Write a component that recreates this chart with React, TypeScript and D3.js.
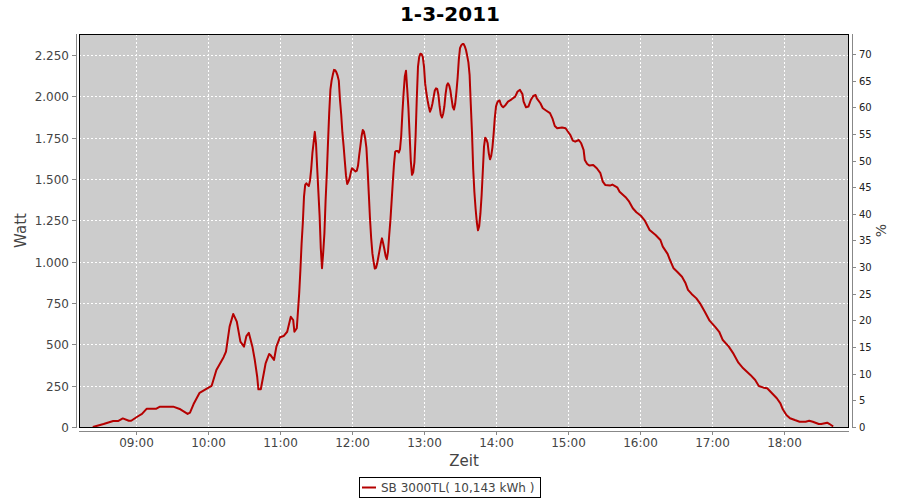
import React from 'react';
import * as d3 from 'd3';

const chartTitle = '1-3-2011';
const seriesName = 'SB 3000TL( 10,143 kWh )';
const xAxisLabel = 'Zeit';
const yAxisLabel = 'Watt';
const y2AxisLabel = '%';

const times: string[] = [
  '08:24', '08:33', '08:41', '08:45', '08:49', '08:54', '08:56', '09:01', '09:05', '09:09',
  '09:17', '09:20', '09:31', '09:37', '09:43', '09:45', '09:48', '09:53', '09:59', '10:03',
  '10:07', '10:13', '10:15', '10:18', '10:21', '10:24', '10:27', '10:30', '10:32', '10:34',
  '10:37', '10:39', '10:41', '10:42', '10:44', '10:47', '10:48', '10:51', '10:52', '10:55',
  '10:57', '11:00', '11:03', '11:06', '11:09', '11:11', '11:12', '11:14', '11:16',
  '11:17', '11:18', '11:19', '11:20', '11:21', '11:22', '11:23', '11:24', '11:25', '11:26',
  '11:27', '11:28', '11:29', '11:30', '11:31', '11:32', '11:33', '11:34', '11:35', '11:36',
  '11:37', '11:38', '11:39', '11:40', '11:41', '11:42', '11:43', '11:44', '11:45', '11:46',
  '11:47', '11:48', '11:49', '11:50', '11:51', '11:52', '11:53', '11:54', '11:55', '11:56',
  '11:57', '11:58', '11:59', '12:00', '12:01', '12:02', '12:03', '12:04', '12:05', '12:06',
  '12:07', '12:08', '12:09', '12:10', '12:11', '12:12', '12:13', '12:14', '12:15', '12:16',
  '12:17', '12:18', '12:19', '12:20', '12:21', '12:22', '12:23', '12:24', '12:25', '12:26',
  '12:27', '12:28', '12:29', '12:30', '12:31', '12:32', '12:33', '12:34', '12:35', '12:36',
  '12:37', '12:38', '12:39', '12:40', '12:41', '12:42', '12:43', '12:44', '12:45', '12:46',
  '12:47', '12:48', '12:49', '12:50', '12:51', '12:52', '12:53', '12:54', '12:55', '12:56',
  '12:57', '12:58', '12:59', '13:00', '13:01', '13:02', '13:03', '13:04', '13:05', '13:06',
  '13:07', '13:08', '13:09', '13:10', '13:11', '13:12', '13:13', '13:14', '13:15', '13:16',
  '13:17', '13:18', '13:19', '13:20', '13:21', '13:22', '13:23', '13:24', '13:25', '13:26',
  '13:27', '13:28', '13:29', '13:30', '13:31', '13:32', '13:33', '13:34', '13:35', '13:36',
  '13:37', '13:38', '13:39', '13:40', '13:41', '13:42', '13:43', '13:44', '13:45', '13:46',
  '13:47', '13:48', '13:49', '13:50', '13:51', '13:52', '13:53', '13:54', '13:55', '13:56',
  '13:57', '13:58', '13:59', '14:00', '14:01', '14:02', '14:03', '14:04', '14:05',
  '14:06', '14:08', '14:10', '14:13', '14:16', '14:18', '14:20', '14:22', '14:23', '14:25',
  '14:27', '14:29', '14:31', '14:33', '14:34', '14:37', '14:39', '14:42', '14:45', '14:47',
  '14:49', '14:51', '14:55', '14:58', '15:00', '15:02', '15:04', '15:06', '15:09', '15:11',
  '15:13', '15:14', '15:16', '15:18', '15:21', '15:24', '15:27', '15:29', '15:31', '15:35',
  '15:37', '15:41', '15:43', '15:48', '15:51', '15:54', '15:57', '16:01', '16:04', '16:08',
  '16:13', '16:17', '16:19', '16:23', '16:25', '16:28', '16:31', '16:35', '16:38', '16:40',
  '16:43', '16:47', '16:50', '16:54', '16:58', '17:03', '17:06', '17:09', '17:14', '17:18',
  '17:22', '17:26', '17:32', '17:36', '17:39', '17:43', '17:46', '17:50', '17:54', '17:57',
  '17:59', '18:02', '18:05', '18:09', '18:13', '18:18', '18:21', '18:24', '18:29', '18:31',
  '18:36', '18:38', '18:41',
];

const watts: number[] = [
  0, 18, 36, 36, 52, 38, 38, 62, 79, 111,
  111, 123, 123, 107, 79, 87, 139, 207, 232, 248,
  345, 422, 456, 607, 684, 637, 516, 486, 550, 570,
  486, 405, 304, 228, 228, 345, 385, 442, 436, 405,
  486, 543, 550, 576, 667, 647, 576, 597, 809,
  950, 1110, 1232, 1393, 1464, 1474, 1465, 1458, 1490, 1560,
  1656, 1720, 1785, 1716, 1565, 1420, 1280, 1080, 960, 1055,
  1170, 1370, 1530, 1720, 1900, 2040, 2095, 2130, 2160, 2158,
  2145, 2125, 2095, 1978, 1890, 1780, 1700, 1610, 1520, 1470,
  1484, 1505, 1540, 1565, 1559, 1552, 1546, 1550, 1580, 1645,
  1700, 1760, 1797, 1785, 1745, 1690, 1560, 1410, 1260, 1140,
  1050, 1000, 958, 962, 990, 1030, 1070, 1111, 1141, 1110,
  1075, 1035, 1015, 1060, 1160, 1250, 1365, 1480, 1590, 1665,
  1670, 1670, 1660, 1680, 1760, 1900, 2020, 2120, 2155, 2045,
  1930, 1770, 1610, 1525, 1540, 1600, 1760, 1990, 2180, 2238,
  2258, 2255, 2238, 2180, 2075, 2020, 1975, 1937, 1907, 1925,
  1955, 1995, 2035, 2048, 2045, 2010, 1940, 1888, 1872, 1895,
  1940, 2015, 2065, 2079, 2066, 2035, 1985, 1935, 1920, 1955,
  2025, 2110, 2220, 2291, 2308, 2316, 2316, 2302, 2280, 2245,
  2205, 2130, 1950, 1780, 1560, 1420, 1320, 1240, 1190, 1215,
  1290, 1400, 1545, 1696, 1750, 1740, 1718, 1655, 1619, 1640,
  1690, 1770, 1870, 1938, 1962, 1972, 1975, 1952, 1940,
  1934, 1948, 1968, 1982, 1998, 2029, 2039, 2014, 1968, 1934,
  1938, 1978, 2002, 2008, 1988, 1958, 1928, 1913, 1898, 1867,
  1821, 1807, 1811, 1807, 1786, 1765, 1732, 1726, 1736, 1716,
  1676, 1615, 1591, 1581, 1585, 1565, 1535, 1484, 1464, 1460,
  1466, 1450, 1423, 1390, 1363, 1323, 1299, 1276, 1248, 1192,
  1161, 1131, 1091, 1047, 1010, 960, 939, 909, 869, 829,
  805, 778, 748, 697, 643, 603, 576, 526, 486, 442,
  389, 355, 315, 284, 248, 238, 234, 204, 174, 143,
  107, 73, 53, 42, 32, 32, 38, 32, 18, 18,
  26, 18, 3,
];

const wattTicks: number[] = [0, 250, 500, 750, 1000, 1250, 1500, 1750, 2000, 2250];
const wattTickLabels: string[] = ['0', '250', '500', '750', '1.000', '1.250', '1.500', '1.750', '2.000', '2.250'];
const pctTicks: number[] = [0, 5, 10, 15, 20, 25, 30, 35, 40, 45, 50, 55, 60, 65, 70];
const hourTicks: string[] = ['09:00', '10:00', '11:00', '12:00', '13:00', '14:00', '15:00', '16:00', '17:00', '18:00'];
const timeDomain: string[] = ['08:12:30', '18:54:10'];
const wattDomain: number[] = [0, 2377];
const pctDomain: number[] = [0, 73.75];

const FONT = '"DejaVu Sans", sans-serif';

export default function App() {
  const W = 900;
  const H = 500;
  const L = 79, R = 849, T = 34, B = 427;
  const parseT = d3.timeParse('%H:%M:%S');
  const parseM = (s: string) => parseT(s + ':00') as Date;

  const x = d3.scaleTime()
    .domain([parseT(timeDomain[0]) as Date, parseT(timeDomain[1]) as Date])
    .range([L, R]);
  const y = d3.scaleLinear().domain(wattDomain).range([B, T]);
  const y2 = d3.scaleLinear().domain(pctDomain).range([B, T]);

  const idx = d3.range(times.length);
  const line = d3.line<number>()
    .x((i) => x(parseM(times[i])))
    .y((i) => y(watts[i]))
    .curve(d3.curveLinear);

  const tickColor = '#444444';
  const axisColor = '#888888';

  return (
    <svg width={W} height={H} style={{ position: 'absolute', left: 0, top: 0, background: '#ffffff' }}
      fontFamily={FONT}>
      <rect x={0} y={0} width={W} height={H} fill="#ffffff" />
      <text x={450} y={21} textAnchor="middle" fontSize={20} fontWeight="bold" fill="#000">{chartTitle}</text>

      {/* plot background */}
      <rect x={L} y={T} width={R - L} height={B - T} fill="#cccccc" />

      {/* grid */}
      {hourTicks.map((h) => {
        const px = Math.round(x(parseM(h))) + 0.5;
        return <line key={'gx' + h} x1={px} x2={px} y1={T} y2={B} stroke="#ffffff" strokeWidth={1} strokeDasharray="2,2" />;
      })}
      {wattTicks.map((v) => {
        const py = Math.round(y(v)) + 0.5;
        return <line key={'gy' + v} x1={L} x2={R} y1={py} y2={py} stroke="#ffffff" strokeWidth={1} strokeDasharray="2,2" />;
      })}

      {/* series */}
      <path d={line(idx) || ''} fill="none" stroke="#b50000" strokeWidth={2} strokeLinejoin="round" />

      {/* plot border */}
      <rect x={L + 0.5} y={T + 0.5} width={R - L - 1} height={B - T} fill="none" stroke="#000" strokeWidth={1} />

      {/* left axis */}
      <line x1={76.5} x2={76.5} y1={T} y2={B + 1} stroke={axisColor} />
      {wattTicks.map((v, i) => {
        const py = Math.round(y(v)) + 0.5;
        return (
          <g key={'ly' + v}>
            <line x1={72} x2={76} y1={py} y2={py} stroke={axisColor} />
            <text x={69} y={py + 4} textAnchor="end" fontSize={12} fill={tickColor}>{wattTickLabels[i]}</text>
          </g>
        );
      })}
      <text transform={`translate(26,${(T + B) / 2}) rotate(-90)`} textAnchor="middle" fontSize={15} fill={tickColor}>{yAxisLabel}</text>

      {/* right axis */}
      <line x1={852.5} x2={852.5} y1={T} y2={B + 1} stroke={axisColor} />
      {pctTicks.map((v) => {
        const py = Math.round(y2(v)) + 0.5;
        return (
          <g key={'ry' + v}>
            <line x1={853} x2={856} y1={py} y2={py} stroke={axisColor} />
            <text x={859} y={py + 3.5} textAnchor="start" fontSize={10} fill="#222">{v}</text>
          </g>
        );
      })}
      <text transform={`translate(886,${(T + B) / 2}) rotate(-90)`} textAnchor="middle" fontSize={14} fill={tickColor}>{y2AxisLabel}</text>

      {/* bottom axis */}
      <line x1={L} x2={R} y1={431.5} y2={431.5} stroke={axisColor} />
      {hourTicks.map((h) => {
        const px = Math.round(x(parseM(h))) + 0.5;
        return (
          <g key={'bx' + h}>
            <line x1={px} x2={px} y1={432} y2={435} stroke={axisColor} />
            <text x={px} y={447} textAnchor="middle" fontSize={12} fill={tickColor}>{h}</text>
          </g>
        );
      })}
      <text x={(L + R) / 2} y={466} textAnchor="middle" fontSize={15} fill={tickColor}>{xAxisLabel}</text>

      {/* legend */}
      <rect x={359.5} y={477.5} width={181} height={20} fill="#ffffff" stroke="#000" strokeWidth={1} />
      <line x1={362} x2={376} y1={487.5} y2={487.5} stroke="#b50000" strokeWidth={2} />
      <text x={381} y={492} fontSize={12} fill={tickColor}>{seriesName}</text>
    </svg>
  );
}
